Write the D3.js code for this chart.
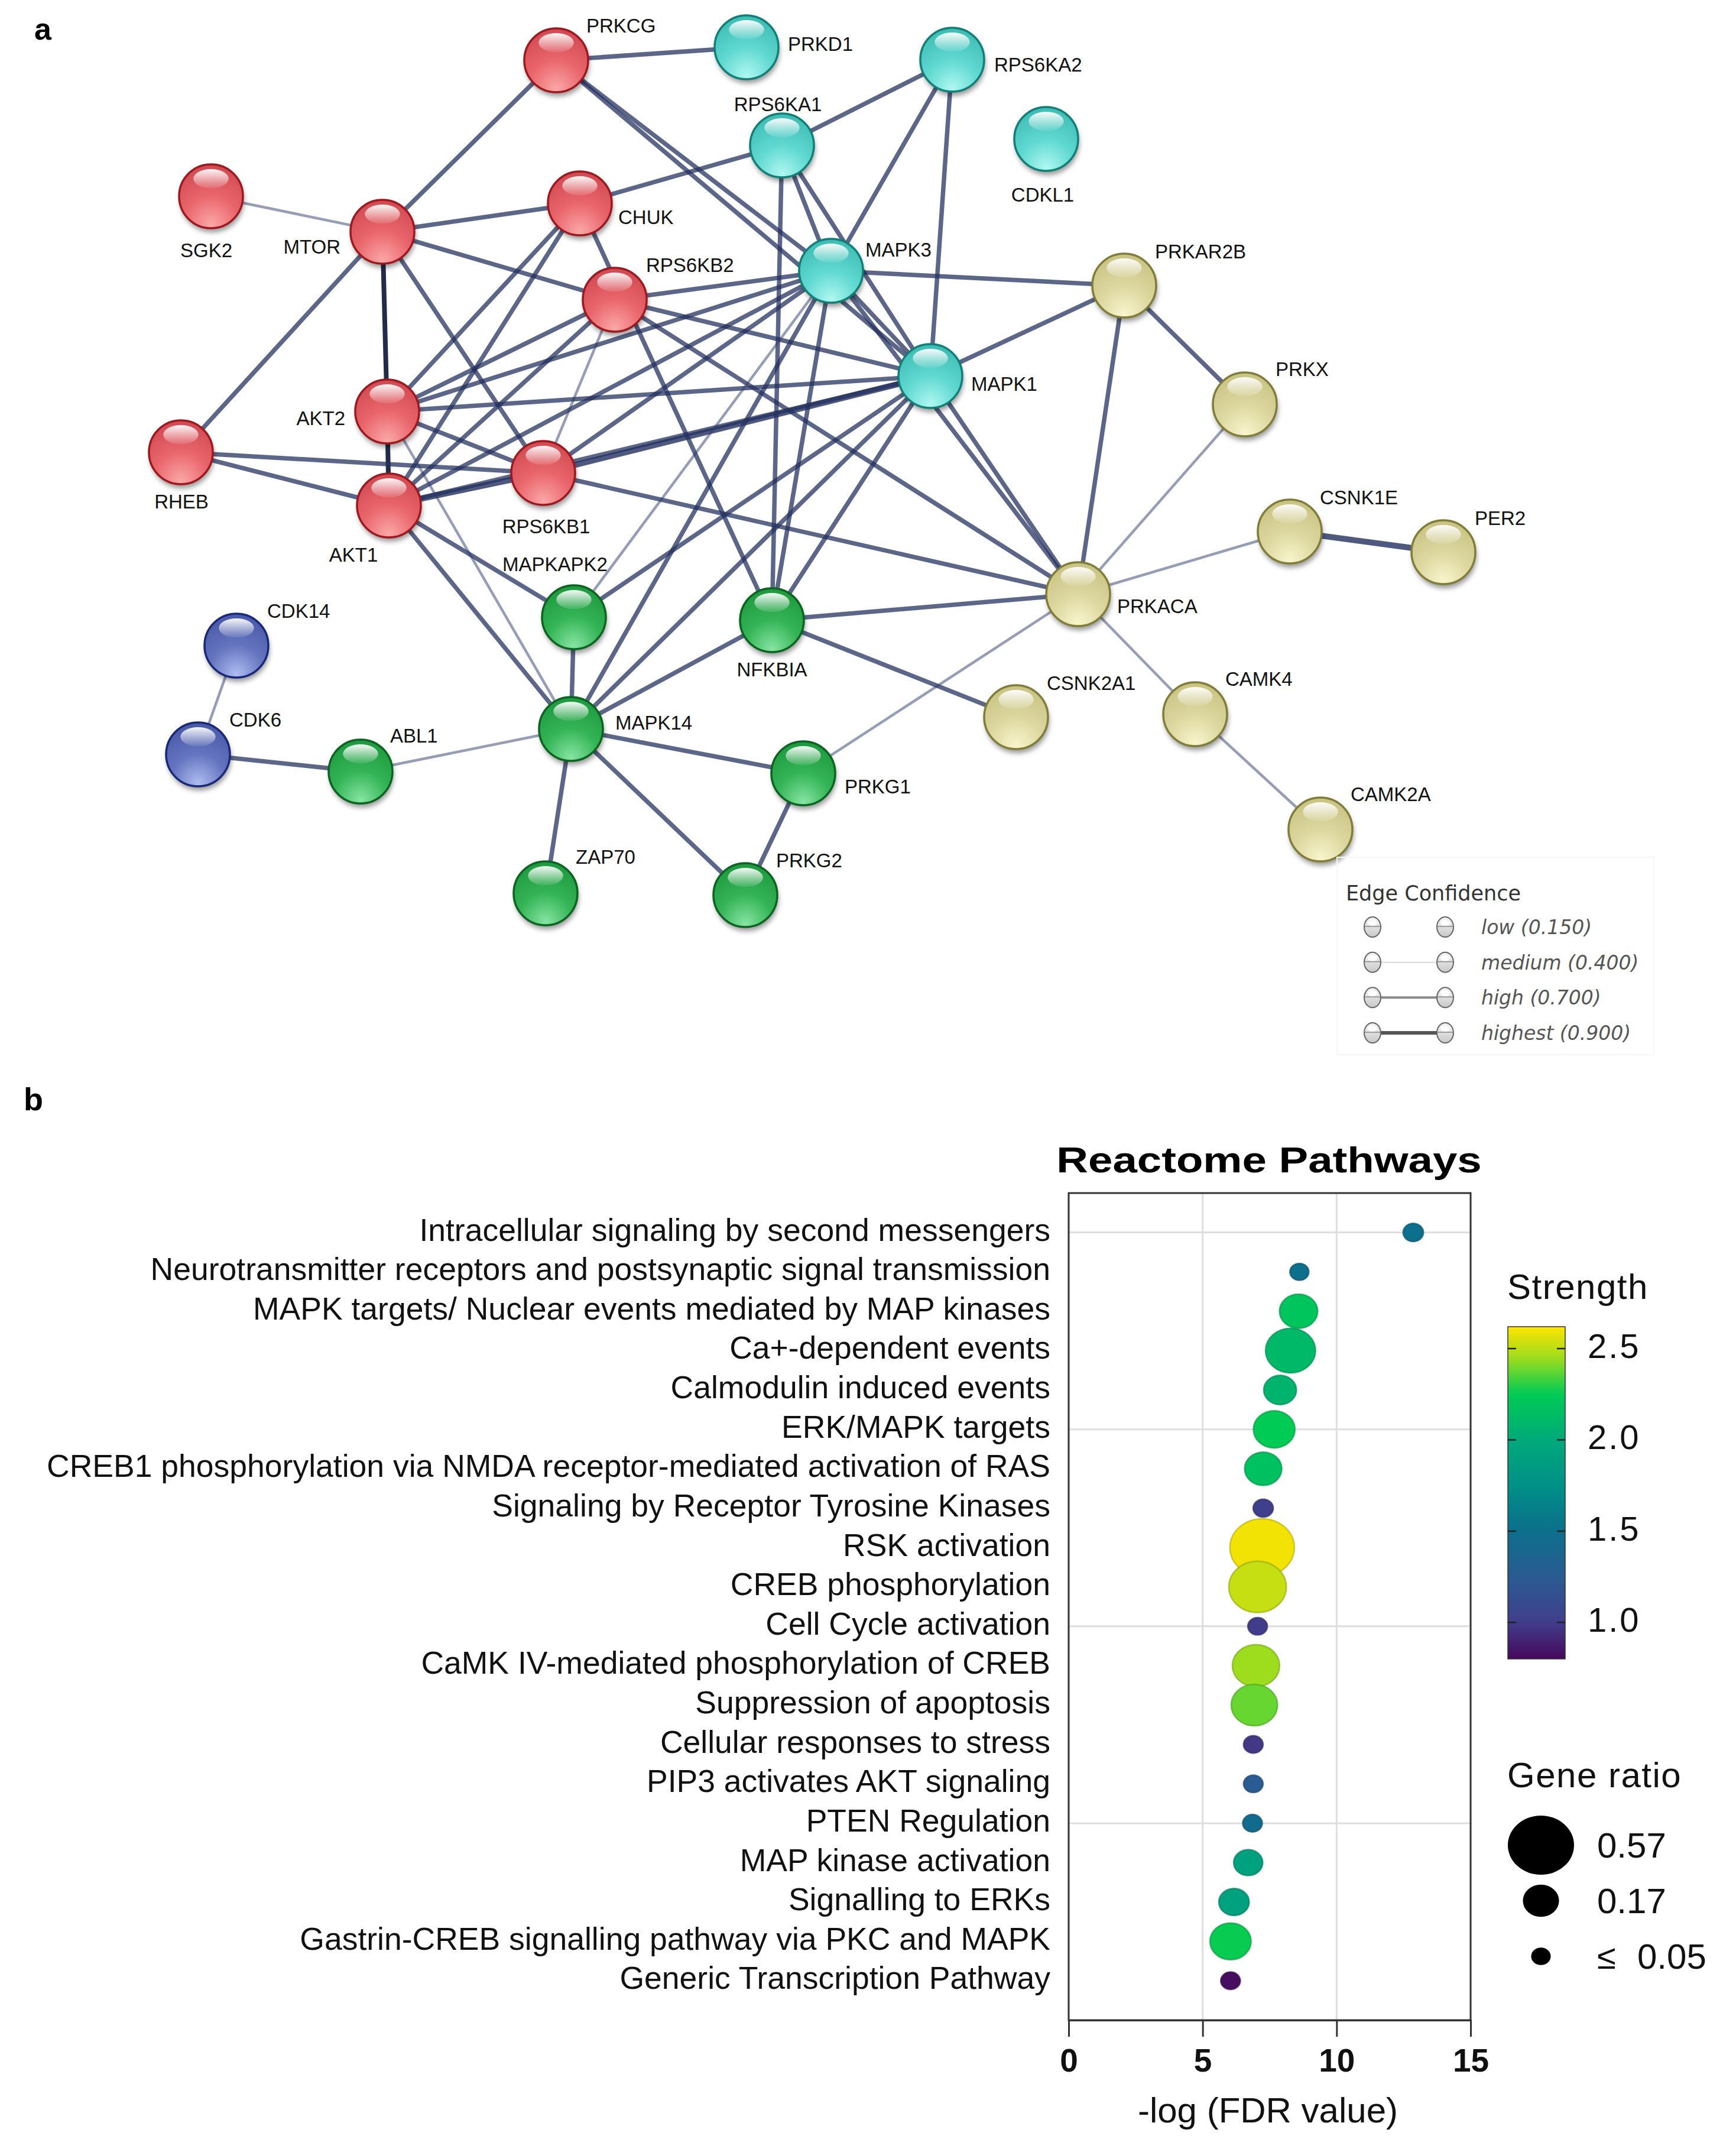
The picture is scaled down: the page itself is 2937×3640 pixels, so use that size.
<!DOCTYPE html>
<html><head><meta charset="utf-8">
<script src="https://cdn.jsdelivr.net/npm/d3@7"></script>
<style>body{margin:0;background:#fff} svg{display:block}</style>
</head><body>
<svg id="c" width="2937" height="3640"></svg>
<script>
// ---------------- DATA: panel a (STRING network) ----------------
const nodeNames = ["PRKCG","PRKD1","RPS6KA2","RPS6KA1","CDKL1","SGK2","MTOR","CHUK","RPS6KB2","MAPK3","PRKAR2B","MAPK1","PRKX","AKT2","RHEB","RPS6KB1","AKT1","CSNK1E","PER2","PRKACA","MAPKAPK2","NFKBIA","CDK14","CDK6","ABL1","MAPK14","PRKG1","CSNK2A1","CAMK4","CAMK2A","ZAP70","PRKG2"];
const nodeGroups = ["red","cyan","cyan","cyan","cyan","red","red","red","red","cyan","yellow","cyan","yellow","red","red","red","red","yellow","yellow","yellow","green","green","blue","blue","green","green","green","yellow","yellow","yellow","green","green"];
// layout coordinates (layout units)
const nodeX = [94.1,126.3,161.1,132.3,177.0,35.7,64.7,98.1,104.0,140.6,190.2,157.4,210.6,65.5,30.6,91.9,65.8,218.2,244.2,182.4,97.1,130.6,40.0,33.5,61.0,96.6,135.9,171.9,202.2,223.4,92.3,126.1];
const nodeY = [10.2,8.0,10.1,24.6,23.5,33.2,39.2,34.4,50.7,45.8,48.3,63.6,68.4,69.6,76.5,80.0,85.5,89.9,93.4,100.5,104.4,104.9,109.2,127.6,130.5,123.3,130.8,121.3,120.8,140.3,151.1,151.4];
const labelAnchor = ["s","s","s","m","m","m","e","s","s","s","s","s","s","e","m","m","m","s","s","s","s","m","s","s","s","s","s","s","s","s","s","s"];
const labelDx = [5.1,7.0,7.1,-0.7,-0.6,-0.8,-7.1,6.5,5.3,5.8,5.2,6.9,5.2,-7.1,0.1,0.5,-6.0,5.1,5.3,6.6,-12.1,0,5.2,5.3,5.0,7.5,7.0,5.2,5.1,5.1,5.1,5.2];
const labelDy = [-4.7,0.6,2.0,-5.8,10.6,10.3,3.7,3.5,-4.7,-2.4,-4.6,2.5,-4.8,2.3,9.5,10.2,9.5,-4.6,-4.6,3.2,-7.8,9.5,-4.7,-4.7,-4.9,0.1,3.4,-4.6,-4.8,-4.8,-5.0,-4.7];
// edges: [source, target, confidence class]
const edges = [
 ["PRKCG","PRKD1","h"],["PRKCG","MTOR","h"],["PRKCG","MAPK3","h"],["PRKCG","MAPK1","h"],
 ["SGK2","MTOR","m"],["MTOR","CHUK","h"],["MTOR","RPS6KB2","h"],["MTOR","AKT2","x"],
 ["MTOR","RPS6KB1","h"],["MTOR","RHEB","h"],["AKT2","AKT1","x"],["RHEB","RPS6KB1","h"],
 ["RHEB","AKT1","h"],["AKT2","RPS6KB1","h"],["AKT1","RPS6KB1","t"],["AKT2","RPS6KB2","h"],
 ["AKT1","RPS6KB2","h"],["CHUK","AKT2","h"],["CHUK","AKT1","h"],["CHUK","NFKBIA","h"],
 ["CHUK","RPS6KA1","h"],["RPS6KB2","RPS6KB1","m"],["AKT2","MAPK3","h"],["AKT2","MAPK1","h"],
 ["AKT1","MAPK3","h"],["AKT1","MAPK1","h"],["RPS6KB1","MAPK3","h"],["RPS6KB1","MAPK1","t"],
 ["RPS6KB2","MAPK3","h"],["RPS6KB2","MAPK1","h"],["RPS6KB1","PRKACA","h"],["RPS6KB2","PRKACA","h"],
 ["AKT1","MAPKAPK2","h"],["AKT1","MAPK14","h"],["AKT2","MAPK14","m"],["MAPK14","MAPKAPK2","h"],
 ["MAPK14","NFKBIA","h"],["MAPK14","ABL1","m"],["MAPK14","ZAP70","h"],["MAPK14","PRKG2","h"],
 ["MAPK14","PRKG1","h"],["MAPK14","MAPK3","h"],["MAPK14","MAPK1","h"],["NFKBIA","PRKACA","h"],
 ["NFKBIA","CSNK2A1","h"],["NFKBIA","MAPK3","h"],["NFKBIA","MAPK1","h"],["NFKBIA","RPS6KA1","h"],
 ["MAPKAPK2","MAPK3","m"],["MAPKAPK2","MAPK1","h"],["PRKG1","PRKG2","h"],["PRKG1","PRKACA","m"],
 ["ABL1","CDK6","h"],["CDK6","CDK14","m"],["PRKACA","PRKAR2B","h"],["PRKACA","PRKX","m"],
 ["PRKACA","CSNK1E","m"],["PRKACA","CAMK4","m"],["PRKAR2B","PRKX","h"],["PRKAR2B","MAPK3","h"],
 ["PRKAR2B","MAPK1","h"],["CSNK1E","PER2","t"],["CAMK4","CAMK2A","m"],["PRKACA","MAPK1","h"],
 ["PRKACA","MAPK3","h"],["RPS6KA1","RPS6KA2","h"],["RPS6KA1","MAPK3","h"],["RPS6KA1","MAPK1","h"],
 ["RPS6KA2","MAPK3","h"],["RPS6KA2","MAPK1","h"],["MAPK3","MAPK1","h"]
];
const confidenceLabels = ["low (0.150)","medium (0.400)","high (0.700)","highest (0.900)"];

// ---------------- DATA: panel b (Reactome bubble plot) ----------------
const pathways = [
 "Intracellular signaling by second messengers",
 "Neurotransmitter receptors and postsynaptic signal transmission",
 "MAPK targets/ Nuclear events mediated by MAP kinases",
 "Ca+-dependent events",
 "Calmodulin induced events",
 "ERK/MAPK targets",
 "CREB1 phosphorylation via NMDA receptor-mediated activation of RAS",
 "Signaling by Receptor Tyrosine Kinases",
 "RSK activation",
 "CREB phosphorylation",
 "Cell Cycle activation",
 "CaMK IV-mediated phosphorylation of CREB",
 "Suppression of apoptosis",
 "Cellular responses to stress",
 "PIP3 activates AKT signaling",
 "PTEN Regulation",
 "MAP kinase activation",
 "Signalling to ERKs",
 "Gastrin-CREB signalling pathway via PKC and MAPK",
 "Generic Transcription Pathway"];
const negLogFDR = [12.86,8.61,8.58,8.28,7.89,7.67,7.26,7.26,7.22,7.05,7.05,6.99,6.93,6.89,6.89,6.86,6.70,6.17,6.04,6.04];
const geneRatio = [0.054,0.047,0.19,0.325,0.14,0.225,0.18,0.053,0.54,0.43,0.05,0.29,0.28,0.05,0.05,0.05,0.11,0.12,0.22,0.05];
const strength = [1.5,1.5,2.2,2.12,2.08,2.25,2.18,1.02,2.6,2.52,1.0,2.45,2.38,0.98,1.25,1.45,1.92,1.92,2.26,0.82];
const xTicks = [0,5,10,15];
const strengthTicks = [1.0,1.5,2.0,2.5];
const ratioLegendValues = [0.57,0.17,0.05];
const ratioLegendLabels = ["0.57","0.17","≤ 0.05"];

// colour ramp (style)
const rampStops = [0.8,1.0,1.25,1.5,1.75,2.0,2.25,2.45,2.62];
const rampColors = ["#46085c","#413d8b","#2a5b92","#0c6f8c","#009087","#00a97a","#00cb55","#9edc1e","#fde400"];

// ---------------- DRAW ----------------
const svg = d3.select("#c");
const defs = svg.append("defs");
const F = "'Liberation Sans', Arial, sans-serif";

// panel labels
svg.append("text").attr("x",58).attr("y",67).attr("font-family",F).attr("font-weight","bold").attr("font-size",52).text("a");
svg.append("text").attr("x",40).attr("y",1878).attr("font-family",F).attr("font-weight","bold").attr("font-size",54).text("b");

// ---- network ----
const sx = d3.scaleLinear().domain([0,293.7]).range([0,2937]);
const sy = d3.scaleLinear().domain([0,364]).range([0,3640]);
const nodes = nodeNames.map((n,i)=>({name:n, group:nodeGroups[i], x:sx(nodeX[i]), y:sy(nodeY[i]),
  lx:sx(nodeX[i]+labelDx[i]), ly:sy(nodeY[i]+labelDy[i]), anchor:labelAnchor[i]}));
const byName = new Map(nodes.map(d=>[d.name,d]));

const edgeStyle = {
  m:{c:"#2e3c6e", o:0.5, w:4.5},
  h:{c:"#23305f", o:0.74, w:7.5},
  t:{c:"#23305f", o:0.8, w:10},
  x:{c:"#16203f", o:0.95, w:8}
};
svg.append("g").selectAll("line").data(edges).join("line")
  .attr("x1",d=>byName.get(d[0]).x).attr("y1",d=>byName.get(d[0]).y)
  .attr("x2",d=>byName.get(d[1]).x).attr("y2",d=>byName.get(d[1]).y)
  .attr("stroke",d=>edgeStyle[d[2]].c).attr("stroke-opacity",d=>edgeStyle[d[2]].o)
  .attr("stroke-width",d=>edgeStyle[d[2]].w).attr("stroke-linecap","round");

const groupStyle = {
  red:{light:"#fba7a7", base:"#e9666c", top:"#d24a52", edge:"#9e1820"},
  cyan:{light:"#aef8f1", base:"#5fd8d0", top:"#3fbdb5", edge:"#0f7f78"},
  yellow:{light:"#f8f5cc", base:"#dcd79f", top:"#c9c384", edge:"#7f7d38"},
  green:{light:"#86e4a2", base:"#34b456", top:"#1f9a40", edge:"#0b6420"},
  blue:{light:"#aebcf0", base:"#6474bf", top:"#4a5aa8", edge:"#1a287a"}
};
Object.entries(groupStyle).forEach(([g,s])=>{
  const rg = defs.append("radialGradient").attr("id","ng-"+g).attr("cx","50%").attr("cy","88%").attr("r","85%").attr("fx","50%").attr("fy","95%");
  rg.append("stop").attr("offset","0%").attr("stop-color",s.light);
  rg.append("stop").attr("offset","50%").attr("stop-color",s.base);
  rg.append("stop").attr("offset","100%").attr("stop-color",s.top);
});
const hl = defs.append("linearGradient").attr("id","hl").attr("x1",0).attr("y1",0).attr("x2",0).attr("y2",1);
hl.append("stop").attr("offset","0%").attr("stop-color","#fff").attr("stop-opacity",0.95);
hl.append("stop").attr("offset","100%").attr("stop-color","#fff").attr("stop-opacity",0.08);
const blur = defs.append("filter").attr("id","blur").attr("x","-50%").attr("y","-50%").attr("width","200%").attr("height","200%");
blur.append("feGaussianBlur").attr("stdDeviation",4);

const R = 54;
const ng = svg.append("g").selectAll("g").data(nodes).join("g").attr("transform",d=>`translate(${d.x},${d.y})`);
ng.append("ellipse").attr("cx",2).attr("cy",7).attr("rx",R).attr("ry",R).attr("fill","#000").attr("opacity",0.4).attr("filter","url(#blur)");
ng.append("circle").attr("r",R).attr("fill",d=>`url(#ng-${d.group})`).attr("stroke",d=>groupStyle[d.group].edge).attr("stroke-width",3.5);
ng.append("ellipse").attr("cx",0).attr("cy",-R*0.55).attr("rx",R*0.55).attr("ry",R*0.3).attr("fill","url(#hl)");

svg.append("g").selectAll("text").data(nodes).join("text")
  .attr("x",d=>d.lx).attr("y",d=>d.ly)
  .attr("text-anchor",d=>d.anchor==="s"?"start":d.anchor==="e"?"end":"middle")
  .attr("font-family",F).attr("font-size",33).attr("fill","#111").text(d=>d.name);

// edge confidence legend
const LF = "'DejaVu Sans', Verdana, sans-serif";
const leg = svg.append("g");
leg.append("rect").attr("x",2262).attr("y",1450).attr("width",536).attr("height",334).attr("fill","none").attr("stroke","#f7f7f7").attr("stroke-width",2);
leg.append("text").attr("x",2277).attr("y",1523).attr("font-family",LF).attr("font-size",35).attr("fill","#333").text("Edge Confidence");
const icon = defs.append("linearGradient").attr("id","icon").attr("x1",0).attr("y1",0).attr("x2",0).attr("y2",1);
icon.append("stop").attr("offset","0%").attr("stop-color","#f6f6f6");
icon.append("stop").attr("offset","100%").attr("stop-color","#c8c8c8");
const legRowY = d3.scalePoint().domain(confidenceLabels).range([1568,1747]);
const legLine = [{c:"#fff",w:0},{c:"#d8d8d8",w:2},{c:"#8a8a8a",w:4},{c:"#555",w:6}];
confidenceLabels.forEach((lab,i)=>{
  const cy = legRowY(lab);
  if (legLine[i].w>0) leg.append("line").attr("x1",2322).attr("x2",2445).attr("y1",cy).attr("y2",cy).attr("stroke",legLine[i].c).attr("stroke-width",legLine[i].w);
  [2322,2445].forEach(cx=>{
    leg.append("ellipse").attr("cx",cx).attr("cy",cy).attr("rx",14).attr("ry",17).attr("fill","url(#icon)").attr("stroke","#666").attr("stroke-width",2);
    leg.append("ellipse").attr("cx",cx).attr("cy",cy-7).attr("rx",8).attr("ry",5).attr("fill","#fff").attr("opacity",0.9);
    leg.append("line").attr("x1",cx-13).attr("x2",cx+13).attr("y1",cy-1).attr("y2",cy-1).attr("stroke","#888").attr("stroke-width",1.5);
  });
  leg.append("text").attr("x",2506).attr("y",cy+12).attr("font-family",LF).attr("font-style","italic").attr("font-size",33).attr("fill","#555").text(lab);
});

// ---- bubble plot ----
const pL=1808, pR=2488, pT=2018, pB=3417;
const x = d3.scaleLinear().domain([0,15]).range([pL,pR]);
const y = d3.scalePoint().domain(pathways).range([pT,pB]).padding(1);
const rScale = d3.scaleSqrt().domain([0,0.57]).range([0,56]);
const color = d3.scaleLinear().domain(rampStops).range(rampColors).clamp(true);

svg.append("text").attr("x",2147).attr("y",1983).attr("text-anchor","middle")
  .attr("font-family",F).attr("font-weight","bold").attr("font-size",62)
  .attr("transform","translate(2147,0) scale(1.2,1) translate(-2147,0)").text("Reactome Pathways");

const grid = svg.append("g").attr("stroke","#dedede").attr("stroke-width",3);
[5,10].forEach(v=>grid.append("line").attr("x1",x(v)).attr("x2",x(v)).attr("y1",pT).attr("y2",pB));
pathways.filter((p,i)=>i%5===0).forEach(p=>grid.append("line").attr("x1",pL).attr("x2",pR).attr("y1",y(p)).attr("y2",y(p)));

svg.append("rect").attr("x",pL).attr("y",pT).attr("width",pR-pL).attr("height",pB-pT)
  .attr("fill","none").attr("stroke","#333").attr("stroke-width",3);

const ax = svg.append("g").attr("transform",`translate(0,${pB})`)
  .call(d3.axisBottom(x).tickValues(xTicks).tickSize(28).tickPadding(20).tickFormat(d3.format("d")));
ax.select(".domain").attr("stroke","#333").attr("stroke-width",3);
ax.selectAll(".tick line").attr("stroke","#333").attr("stroke-width",3);
ax.selectAll(".tick text").attr("font-family",F).attr("font-weight","bold").attr("font-size",55).attr("fill","#111");
svg.append("text").attr("x",2145).attr("y",3590).attr("text-anchor","middle").attr("font-family",F).attr("font-size",60).attr("fill","#111").text("-log (FDR value)");

svg.append("g").selectAll("text").data(pathways).join("text")
  .attr("x",1777).attr("y",d=>y(d)+14).attr("text-anchor","end")
  .attr("font-family",F).attr("font-size",53.5).attr("fill","#111").text(d=>d);

const bdata = pathways.map((p,i)=>({p, v:negLogFDR[i], g:geneRatio[i], s:strength[i]}));
svg.append("g").selectAll("ellipse").data(bdata).join("ellipse")
  .attr("cx",d=>x(d.v)).attr("cy",d=>y(d.p))
  .attr("rx",d=>rScale(d.g)).attr("ry",d=>rScale(d.g)/1.12)
  .attr("fill",d=>color(d.s)).attr("stroke",d=>d3.color(color(d.s)).darker(0.7)).attr("stroke-width",2.5).attr("stroke-opacity",0.7);

// strength legend
svg.append("text").attr("x",2550).attr("y",2197).attr("font-family",F).attr("font-size",60).attr("letter-spacing",1.5).attr("fill","#111").text("Strength");
const ls = d3.scaleLinear().domain([0.8,2.62]).range([2806,2244]);
const cg = defs.append("linearGradient").attr("id","cbar").attr("x1",0).attr("y1",1).attr("x2",0).attr("y2",0);
rampStops.forEach((s,i)=>cg.append("stop").attr("offset",(s-0.8)/(2.62-0.8)).attr("stop-color",rampColors[i]));
svg.append("rect").attr("x",2551).attr("y",2244).attr("width",97).attr("height",562).attr("fill","url(#cbar)").attr("stroke","#333").attr("stroke-width",1.5);
strengthTicks.forEach(t=>{
  svg.append("line").attr("x1",2551).attr("x2",2565).attr("y1",ls(t)).attr("y2",ls(t)).attr("stroke","#222").attr("stroke-width",2.5);
  svg.append("line").attr("x1",2634).attr("x2",2648).attr("y1",ls(t)).attr("y2",ls(t)).attr("stroke","#222").attr("stroke-width",2.5);
  svg.append("text").attr("x",2686).attr("y",ls(t)+16).attr("font-family",F).attr("font-size",58).attr("letter-spacing",3).attr("fill","#111").text(d3.format(".1f")(t));
});

// gene ratio legend
svg.append("text").attr("x",2550).attr("y",3023).attr("font-family",F).attr("font-size",60).attr("letter-spacing",1.5).attr("fill","#111").text("Gene ratio");
const gy = d3.scalePoint().domain(ratioLegendLabels).range([3121,3309]);
ratioLegendValues.forEach((v,i)=>{
  const cy = gy(ratioLegendLabels[i]);
  svg.append("ellipse").attr("cx",2607).attr("cy",cy).attr("rx",rScale(v)).attr("ry",rScale(v)/1.12).attr("fill","#000");
  const parts = ratioLegendLabels[i].split(" ");
  if (parts.length>1){
    svg.append("text").attr("x",2702).attr("y",cy+21).attr("font-family",F).attr("font-size",58).attr("fill","#111").text(parts[0]);
    svg.append("text").attr("x",2770).attr("y",cy+21).attr("font-family",F).attr("font-size",60).attr("fill","#111").text(parts[1]);
  } else {
    svg.append("text").attr("x",2702).attr("y",cy+21).attr("font-family",F).attr("font-size",60).attr("fill","#111").text(parts[0]);
  }
});
</script>
</body></html>
